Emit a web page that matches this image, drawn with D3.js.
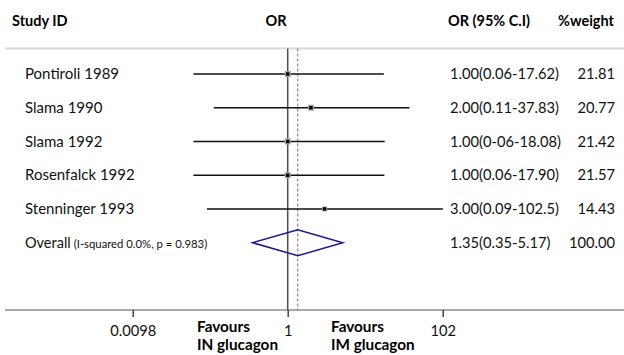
<!DOCTYPE html>
<html>
<head>
<meta charset="utf-8">
<script src="https://cdn.jsdelivr.net/npm/d3@7/dist/d3.min.js"></script>
<style>
  html, body { margin: 0; padding: 0; background: #fff; }
  svg { display: block; font-family: Lato, "Open Sans", sans-serif; }
</style>
</head>
<body>
<svg id="chart" width="624" height="355"></svg>
<script>
// Forest plot: odds ratios of individual studies and the pooled estimate
const studies   = ["Pontiroli 1989", "Slama 1990", "Slama 1992", "Rosenfalck 1992", "Stenninger 1993"];
const orValues  = [1.00, 2.00, 1.00, 1.00, 3.00];
const ciLower   = [0.06, 0.11, 0.06, 0.06, 0.09];
const ciUpper   = [17.62, 37.83, 18.08, 17.90, 102.5];
const ciLabels  = ["1.00(0.06-17.62)", "2.00(0.11-37.83)", "1.00(0-06-18.08)", "1.00(0.06-17.90)", "3.00(0.09-102.5)"];
const weights   = [21.81, 20.77, 21.42, 21.57, 14.43];

const overallOR    = 1.35;
const overallLower = 0.35;
const overallUpper = 5.17;
const overallLabel = "1.35(0.35-5.17)";
const overallWeight = "100.00";

const tickValues = [0.0098, 1, 102];
const tickLabels = ["0.0098", "1", "102"];

const svg = d3.select("#chart");
const W = 624;
const axisY = 310, topY = 48.5;
const dataFont = 14.7;

const x = d3.scaleLog().domain([0.0098, 102]).range([132.7, 442.7]);
const y = d3.scaleLinear().domain([0, studies.length]).range([74, 242.7]);

// header
const hdr = svg.append("g").attr("font-weight", "bold").attr("font-size", 14.5).attr("fill", "#000");
hdr.append("text").attr("x", 12).attr("y", 26).text("Study ID");
hdr.append("text").attr("x", 276).attr("y", 26).attr("text-anchor", "middle").text("OR");
hdr.append("text").attr("x", 448).attr("y", 26).text("OR (95% C.I)");
hdr.append("text").attr("x", 614).attr("y", 26).attr("text-anchor", "end").text("%weight");

svg.append("line").attr("x1", 5).attr("x2", W).attr("y1", topY).attr("y2", topY)
  .attr("stroke", "#d9d9d9").attr("stroke-width", 2);

// reference line at OR = 1 and dashed line at the pooled OR
svg.append("line").attr("x1", x(1)).attr("x2", x(1)).attr("y1", topY).attr("y2", axisY)
  .attr("stroke", "#4d4d4d").attr("stroke-width", 1.5);
svg.append("line").attr("x1", x(overallOR)).attr("x2", x(overallOR)).attr("y1", topY).attr("y2", axisY)
  .attr("stroke", "#c0505a").attr("stroke-width", 1).attr("stroke-dasharray", "3,2");

// study rows
const rows = svg.append("g").selectAll("g").data(studies).join("g")
  .attr("transform", (d, i) => `translate(0,${y(i)})`);

rows.append("text").attr("x", 25).attr("dy", "0.35em").attr("font-size", 15).attr("fill", "#111").text(d => d);
rows.append("line")
  .attr("x1", (d, i) => x(ciLower[i])).attr("x2", (d, i) => x(ciUpper[i]))
  .attr("stroke", "#111").attr("stroke-width", 1.5);
rows.append("rect")
  .each(function (d, i) {
    const s = Math.sqrt(weights[i]) * 1.3;
    d3.select(this).attr("x", x(orValues[i]) - s / 2).attr("y", -s / 2).attr("width", s).attr("height", s);
  })
  .attr("fill", "#a6a6a6");
rows.append("rect")
  .attr("x", (d, i) => x(orValues[i]) - 1.7).attr("y", -1.7).attr("width", 3.4).attr("height", 3.4)
  .attr("fill", "#000");
rows.append("text").attr("x", 450).attr("dy", "0.35em").attr("font-size", dataFont).attr("fill", "#111")
  .text((d, i) => ciLabels[i]);
rows.append("text").attr("x", 615).attr("dy", "0.35em").attr("font-size", dataFont).attr("fill", "#111")
  .attr("text-anchor", "end").text((d, i) => weights[i].toFixed(2));

// pooled estimate
const oy = y(studies.length);
const ov = svg.append("g").attr("transform", `translate(0,${oy})`);
const ovText = ov.append("text").attr("x", 25).attr("dy", "0.35em").attr("fill", "#111");
ovText.append("tspan").attr("font-size", 14.5).text("Overall");
ovText.append("tspan").attr("dx", 3).attr("font-size", 11.3).text("(I-squared 0.0%, p = 0.983)");
const dh = 13;
ov.append("path")
  .attr("d", `M${x(overallLower)},0L${x(overallOR)},${-dh}L${x(overallUpper)},0L${x(overallOR)},${dh}Z`)
  .attr("fill", "none").attr("stroke", "#1a1a8c").attr("stroke-width", 1.5);
ov.append("text").attr("x", 450).attr("dy", "0.35em").attr("font-size", dataFont).attr("fill", "#111").text(overallLabel);
ov.append("text").attr("x", 615).attr("dy", "0.35em").attr("font-size", dataFont).attr("fill", "#111")
  .attr("text-anchor", "end").text(overallWeight);

// x axis
svg.append("line").attr("x1", 5).attr("x2", W).attr("y1", axisY).attr("y2", axisY)
  .attr("stroke", "#555").attr("stroke-width", 1);
const axis = d3.axisBottom(x).tickValues(tickValues).tickSize(7).tickPadding(9)
  .tickFormat((d, i) => tickLabels[i]);
const ag = svg.append("g").attr("transform", `translate(0,${axisY})`).call(axis);
ag.select(".domain").remove();
ag.selectAll(".tick line").attr("stroke", "#444").attr("stroke-width", 1.5);
ag.selectAll(".tick text").attr("font-size", 14.7).attr("fill", "#111").attr("font-family", "Lato, sans-serif");

// direction labels
const fav = [
  { x: 197, lines: ["Favours", "IN glucagon"] },
  { x: 331, lines: ["Favours", "IM glucagon"] }
];
fav.forEach(f => {
  f.lines.forEach((t, j) => {
    svg.append("text").attr("x", f.x).attr("y", 332 + j * 18)
      .attr("font-size", 15.3).attr("font-weight", "bold").attr("fill", "#000").text(t);
  });
});
</script>
</body>
</html>
